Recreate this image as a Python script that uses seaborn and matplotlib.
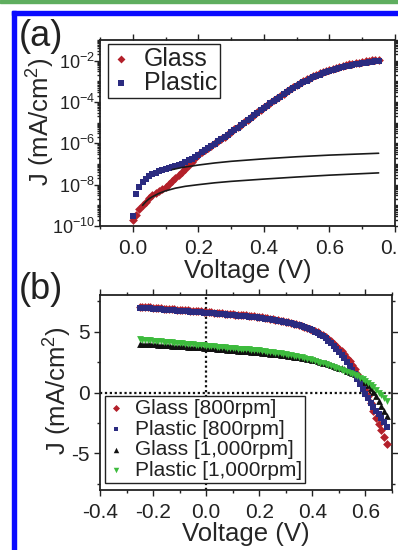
import numpy as np
import pandas as pd
import matplotlib
matplotlib.use("Agg")
import matplotlib.pyplot as plt
import seaborn as sns
from matplotlib.ticker import MultipleLocator, LogLocator, FixedLocator, NullFormatter
from matplotlib.patches import Rectangle

# ---------------- data: panel (a), dark J-V (log10 of J in mA/cm^2) ----------------
Va = [round(0.01 * i, 2) for i in range(76)]
glass_logJ = [-9.70, -9.45, -9.20, -9.00, -8.82, -8.66, -8.52, -8.40, -8.29, -8.19,
              -8.09, -7.97, -7.84, -7.70, -7.55, -7.39, -7.23, -7.06, -6.89, -6.72,
              -6.55, -6.44, -6.33, -6.22, -6.11, -6.00, -5.89, -5.78, -5.67, -5.56,
              -5.45, -5.33, -5.21, -5.09, -4.97, -4.85, -4.73, -4.61, -4.49, -4.37,
              -4.25, -4.14, -4.03, -3.92, -3.81, -3.70, -3.59, -3.48, -3.37, -3.27,
              -3.17, -3.08, -2.99, -2.91, -2.83, -2.76, -2.69, -2.62, -2.56, -2.50,
              -2.44, -2.39, -2.34, -2.30, -2.26, -2.22, -2.18, -2.15, -2.12, -2.09,
              -2.06, -2.03, -2.01, -1.99, -1.97, -1.95]
plastic_logJ = [-9.50, -8.45, -8.10, -7.88, -7.72, -7.60, -7.50, -7.42, -7.35, -7.29,
                -7.24, -7.19, -7.14, -7.09, -7.04, -6.98, -6.91, -6.83, -6.74, -6.65,
                -6.55, -6.44, -6.34, -6.23, -6.12, -6.02, -5.91, -5.80, -5.69, -5.58,
                -5.47, -5.36, -5.24, -5.12, -5.00, -4.88, -4.76, -4.64, -4.52, -4.40,
                -4.29, -4.18, -4.07, -3.96, -3.85, -3.74, -3.63, -3.53, -3.42, -3.32,
                -3.22, -3.13, -3.04, -2.96, -2.88, -2.81, -2.74, -2.67, -2.61, -2.55,
                -2.50, -2.45, -2.40, -2.36, -2.32, -2.28, -2.24, -2.21, -2.18, -2.15,
                -2.12, -2.10, -2.08, -2.06, -2.04, -2.03]
# fitted (ohmic) lines
fit_hi_V = [0.12, 0.15, 0.20, 0.25, 0.30, 0.40, 0.50, 0.60, 0.75]
fit_hi_logJ = [-7.27, -7.17, -7.05, -6.95, -6.87, -6.75, -6.65, -6.57, -6.48]
fit_lo_V = [0.03, 0.04, 0.05, 0.06, 0.08, 0.10, 0.13, 0.16, 0.20, 0.25, 0.30, 0.40, 0.50, 0.60, 0.75]
fit_lo_logJ = [-9.00, -8.82, -8.68, -8.58, -8.42, -8.30, -8.17, -8.08, -8.00, -7.91,
               -7.84, -7.73, -7.63, -7.54, -7.43]

# ---------------- data: panel (b), illuminated J-V (mA/cm^2) ----------------
Vb = [round(-0.25 + 0.01 * i, 2) for i in range(94)]
glass800 = [7.05, 7.03, 7.01, 7.00, 6.98, 6.96, 6.94, 6.93, 6.91, 6.89,
            6.87, 6.86, 6.84, 6.82, 6.80, 6.79, 6.77, 6.75, 6.73, 6.72,
            6.70, 6.68, 6.66, 6.65, 6.63, 6.62, 6.60, 6.58, 6.56, 6.54,
            6.52, 6.50, 6.48, 6.46, 6.44, 6.42, 6.40, 6.38, 6.36, 6.34,
            6.32, 6.30, 6.27, 6.24, 6.21, 6.20, 6.16, 6.12, 6.08, 6.04,
            6.00, 5.96, 5.92, 5.88, 5.84, 5.80, 5.75, 5.70, 5.65, 5.60,
            5.54, 5.47, 5.40, 5.32, 5.24, 5.15, 5.05, 4.94, 4.82, 4.68,
            4.53, 4.37, 4.20, 4.02, 3.82, 3.60, 3.37, 3.12, 2.85, 2.56,
            2.24, 1.90, 1.53, 1.13, 0.68, 0.20, -0.32, -0.88, -1.48, -2.10,
            -2.60, -3.10, -3.65, -4.20]
plastic800 = [6.97, 6.95, 6.93, 6.92, 6.90, 6.88, 6.86, 6.85, 6.83, 6.81,
              6.79, 6.78, 6.76, 6.74, 6.72, 6.71, 6.69, 6.67, 6.65, 6.64,
              6.62, 6.60, 6.58, 6.57, 6.56, 6.55, 6.53, 6.51, 6.49, 6.47,
              6.45, 6.43, 6.41, 6.39, 6.37, 6.35, 6.33, 6.31, 6.29, 6.27,
              6.25, 6.23, 6.21, 6.19, 6.17, 6.15, 6.11, 6.07, 6.03, 5.99,
              5.95, 5.91, 5.87, 5.83, 5.79, 5.75, 5.71, 5.67, 5.62, 5.56,
              5.50, 5.43, 5.36, 5.28, 5.19, 5.10, 4.99, 4.87, 4.74, 4.60,
              4.44, 4.26, 4.06, 3.84, 3.60, 3.35, 3.08, 2.80, 2.50, 2.18,
              1.84, 1.48, 1.10, 0.70, 0.30, -0.10, -0.48, -0.84, -1.18, -1.50,
              -1.80, -2.10, -2.45, -2.85]
glass1000 = [4.02, 4.01, 3.99, 3.98, 3.96, 3.95, 3.94, 3.92, 3.91, 3.90,
             3.88, 3.87, 3.85, 3.84, 3.83, 3.81, 3.80, 3.78, 3.77, 3.76,
             3.74, 3.73, 3.71, 3.70, 3.69, 3.68, 3.66, 3.64, 3.62, 3.60,
             3.58, 3.56, 3.54, 3.52, 3.50, 3.48, 3.46, 3.44, 3.42, 3.40,
             3.38, 3.37, 3.35, 3.33, 3.31, 3.30, 3.28, 3.25, 3.23, 3.20,
             3.18, 3.15, 3.13, 3.10, 3.08, 3.05, 3.02, 2.99, 2.95, 2.92,
             2.88, 2.84, 2.80, 2.76, 2.72, 2.68, 2.63, 2.57, 2.52, 2.46,
             2.40, 2.34, 2.27, 2.20, 2.13, 2.05, 1.97, 1.89, 1.80, 1.70,
             1.60, 1.48, 1.36, 1.21, 1.04, 0.85, 0.62, 0.36, 0.04, -0.32,
             -0.70, -1.10, -1.50, -1.90]
plastic1000 = [4.35, 4.33, 4.31, 4.29, 4.27, 4.25, 4.23, 4.21, 4.19, 4.17,
               4.15, 4.13, 4.11, 4.09, 4.07, 4.05, 4.03, 4.01, 3.99, 3.97,
               3.95, 3.93, 3.91, 3.89, 3.87, 3.85, 3.83, 3.81, 3.79, 3.77,
               3.75, 3.73, 3.71, 3.69, 3.67, 3.65, 3.63, 3.61, 3.59, 3.57,
               3.55, 3.53, 3.51, 3.49, 3.47, 3.45, 3.42, 3.39, 3.36, 3.33,
               3.30, 3.27, 3.24, 3.21, 3.18, 3.15, 3.11, 3.07, 3.03, 2.99,
               2.94, 2.89, 2.84, 2.78, 2.72, 2.66, 2.60, 2.53, 2.46, 2.39,
               2.32, 2.25, 2.17, 2.10, 2.02, 1.95, 1.87, 1.79, 1.71, 1.62,
               1.53, 1.44, 1.34, 1.23, 1.11, 0.97, 0.80, 0.62, 0.42, 0.20,
               -0.03, -0.24, -0.45, -0.66]

labels_a = ["Glass", "Plastic"]
labels_b = ["Glass [800rpm]", "Plastic [800rpm]", "Glass [1,000rpm]", "Plastic [1,000rpm]"]

# ---------------- style ----------------
sns.set_theme(style="ticks")
plt.rcParams['font.family'] = ['Liberation Sans', 'DejaVu Sans']
plt.rcParams['mathtext.fontset'] = 'custom'
plt.rcParams['mathtext.rm'] = 'Liberation Sans'
plt.rcParams['mathtext.it'] = 'Liberation Sans:italic'
plt.rcParams['mathtext.bf'] = 'Liberation Sans:bold'
plt.rcParams['mathtext.default'] = 'regular'
plt.rcParams['axes.unicode_minus'] = False
plt.rcParams['axes.edgecolor'] = '#222222'
plt.rcParams['text.color'] = '#222222'
plt.rcParams['xtick.color'] = '#222222'
plt.rcParams['ytick.color'] = '#222222'

RED = '#b3202a'
NAVY = '#2b2b80'
GREEN = '#3dbb3d'
BLACK = '#111111'

W, H = 398, 550
fig = plt.figure(figsize=(W / 100, H / 100), dpi=100)
fig.patch.set_facecolor('white')

# decorative frame of the source page
fig.patches.append(Rectangle((0, 1 - 3 / H), 1, 3 / H, transform=fig.transFigure,
                             color='#5fae5f', zorder=0))
fig.patches.append(Rectangle((12 / W, 0), 4 / W, 1 - 11 / H, transform=fig.transFigure,
                             color='#0a0aff', zorder=0))
fig.patches.append(Rectangle((12 / W, 1 - 15 / H), 1 - 12 / W, 4 / H, transform=fig.transFigure,
                             color='#0a0aff', zorder=0))

ax1 = fig.add_axes([100 / W, 1 - 226 / H, 295 / W, 186 / H])
ax2 = fig.add_axes([100 / W, 1 - 490 / H, 292 / W, 195 / H])

# ---------------- panel (a) ----------------
ax1.set_yscale('log')
sns.scatterplot(x=Va, y=np.power(10.0, glass_logJ), marker='D', color=RED, s=20,
                linewidth=0, label=labels_a[0], ax=ax1, zorder=3)
sns.scatterplot(x=Va, y=np.power(10.0, plastic_logJ), marker='s', color=NAVY, s=18,
                linewidth=0, label=labels_a[1], ax=ax1, zorder=4)
sns.lineplot(x=fit_hi_V, y=np.power(10.0, fit_hi_logJ), color='#1a1a1a', lw=1.2,
             ax=ax1, legend=False, zorder=5)
sns.lineplot(x=fit_lo_V, y=np.power(10.0, fit_lo_logJ), color='#1a1a1a', lw=1.2,
             ax=ax1, legend=False, zorder=5)

ax1.set_xlim(-0.1, 0.8)
ax1.set_ylim(1e-10, 1e-1)
ax1.xaxis.set_major_locator(MultipleLocator(0.2))
ax1.xaxis.set_minor_locator(MultipleLocator(0.1))
ax1.yaxis.set_major_locator(FixedLocator([1e-10, 1e-8, 1e-6, 1e-4, 1e-2]))
ax1.yaxis.set_minor_locator(LogLocator(base=10, subs=np.arange(1, 10), numticks=100))
ax1.yaxis.set_minor_formatter(NullFormatter())
ax1.tick_params(axis='x', which='both', labelsize=15, pad=5)
ax1.tick_params(axis='y', which='major', labelsize=13, pad=-1)
ax1.set_xlabel("Voltage (V)", fontsize=18.5)
ax1.set_ylabel("J (mA/cm$^2$)", fontsize=18.5)
ax1.xaxis.set_label_coords(0.5, -0.175)
ax1.yaxis.set_label_coords(-0.145, 0.56)
leg1 = ax1.legend(loc='upper left', bbox_to_anchor=(8 / 295, 1 - 4 / 186), borderaxespad=0,
                  fontsize=18, frameon=True, fancybox=False, framealpha=1,
                  edgecolor='#222222', handlelength=0.8, handletextpad=0.5,
                  labelspacing=0.0, borderpad=0.12, markerscale=0.9)
leg1.get_frame().set_linewidth(1.0)

# ---------------- panel (b) ----------------
ax2.axvline(0, color=BLACK, ls=(0, (1, 1.2)), lw=1.6, zorder=1)
ax2.axhline(0, color=BLACK, ls=(0, (1, 1.2)), lw=1.6, zorder=1)
sns.scatterplot(x=Vb, y=glass800, marker='D', color=RED, s=20, linewidth=0,
                label=labels_b[0], ax=ax2, zorder=3)
sns.scatterplot(x=Vb, y=plastic800, marker='s', color=NAVY, s=18, linewidth=0,
                label=labels_b[1], ax=ax2, zorder=4)
sns.scatterplot(x=Vb, y=glass1000, marker='^', color=BLACK, s=24, linewidth=0,
                label=labels_b[2], ax=ax2, zorder=3)
sns.scatterplot(x=Vb, y=plastic1000, marker='v', color=GREEN, s=24, linewidth=0,
                label=labels_b[3], ax=ax2, zorder=4)

ax2.set_xlim(-0.4, 0.7)
ax2.set_ylim(-8, 8)
ax2.xaxis.set_major_locator(MultipleLocator(0.2))
ax2.xaxis.set_minor_locator(MultipleLocator(0.1))
ax2.yaxis.set_major_locator(MultipleLocator(5))
ax2.yaxis.set_minor_locator(MultipleLocator(2.5))
ax2.tick_params(axis='x', which='major', labelsize=15, pad=5)
ax2.tick_params(axis='y', which='major', labelsize=15, pad=3)
ax2.set_xlabel("Voltage (V)", fontsize=18.5)
ax2.set_ylabel("J (mA/cm$^2$)", fontsize=18.5)
ax2.xaxis.set_label_coords(0.5, -0.165)
ax2.yaxis.set_label_coords(-0.088, 0.51)
leg2 = ax2.legend(loc='lower left', bbox_to_anchor=(5 / 292, 7 / 195), borderaxespad=0,
                  fontsize=15, frameon=True, fancybox=False, framealpha=1,
                  edgecolor='#222222', handlelength=0.8, handletextpad=0.5,
                  labelspacing=0.08, borderpad=0.15, markerscale=0.8)
leg2.get_frame().set_linewidth(1.0)
leg2.set_zorder(10)

for ax in (ax1, ax2):
    ax.tick_params(which='both', direction='out', top=True, right=True,
                   labeltop=False, labelright=False, width=1.0)
    ax.tick_params(which='major', length=4.5)
    ax.tick_params(which='minor', length=2.5)
    for sp in ax.spines.values():
        sp.set_visible(True)
        sp.set_linewidth(1.3)
    ax.set_facecolor('white')

fig.text(19 / W, 1 - 19 / H, "(a)", fontsize=26, ha='left', va='top')
fig.text(19 / W, 1 - 272 / H, "(b)", fontsize=26, ha='left', va='top')

fig.savefig("out.png", dpi=100)
